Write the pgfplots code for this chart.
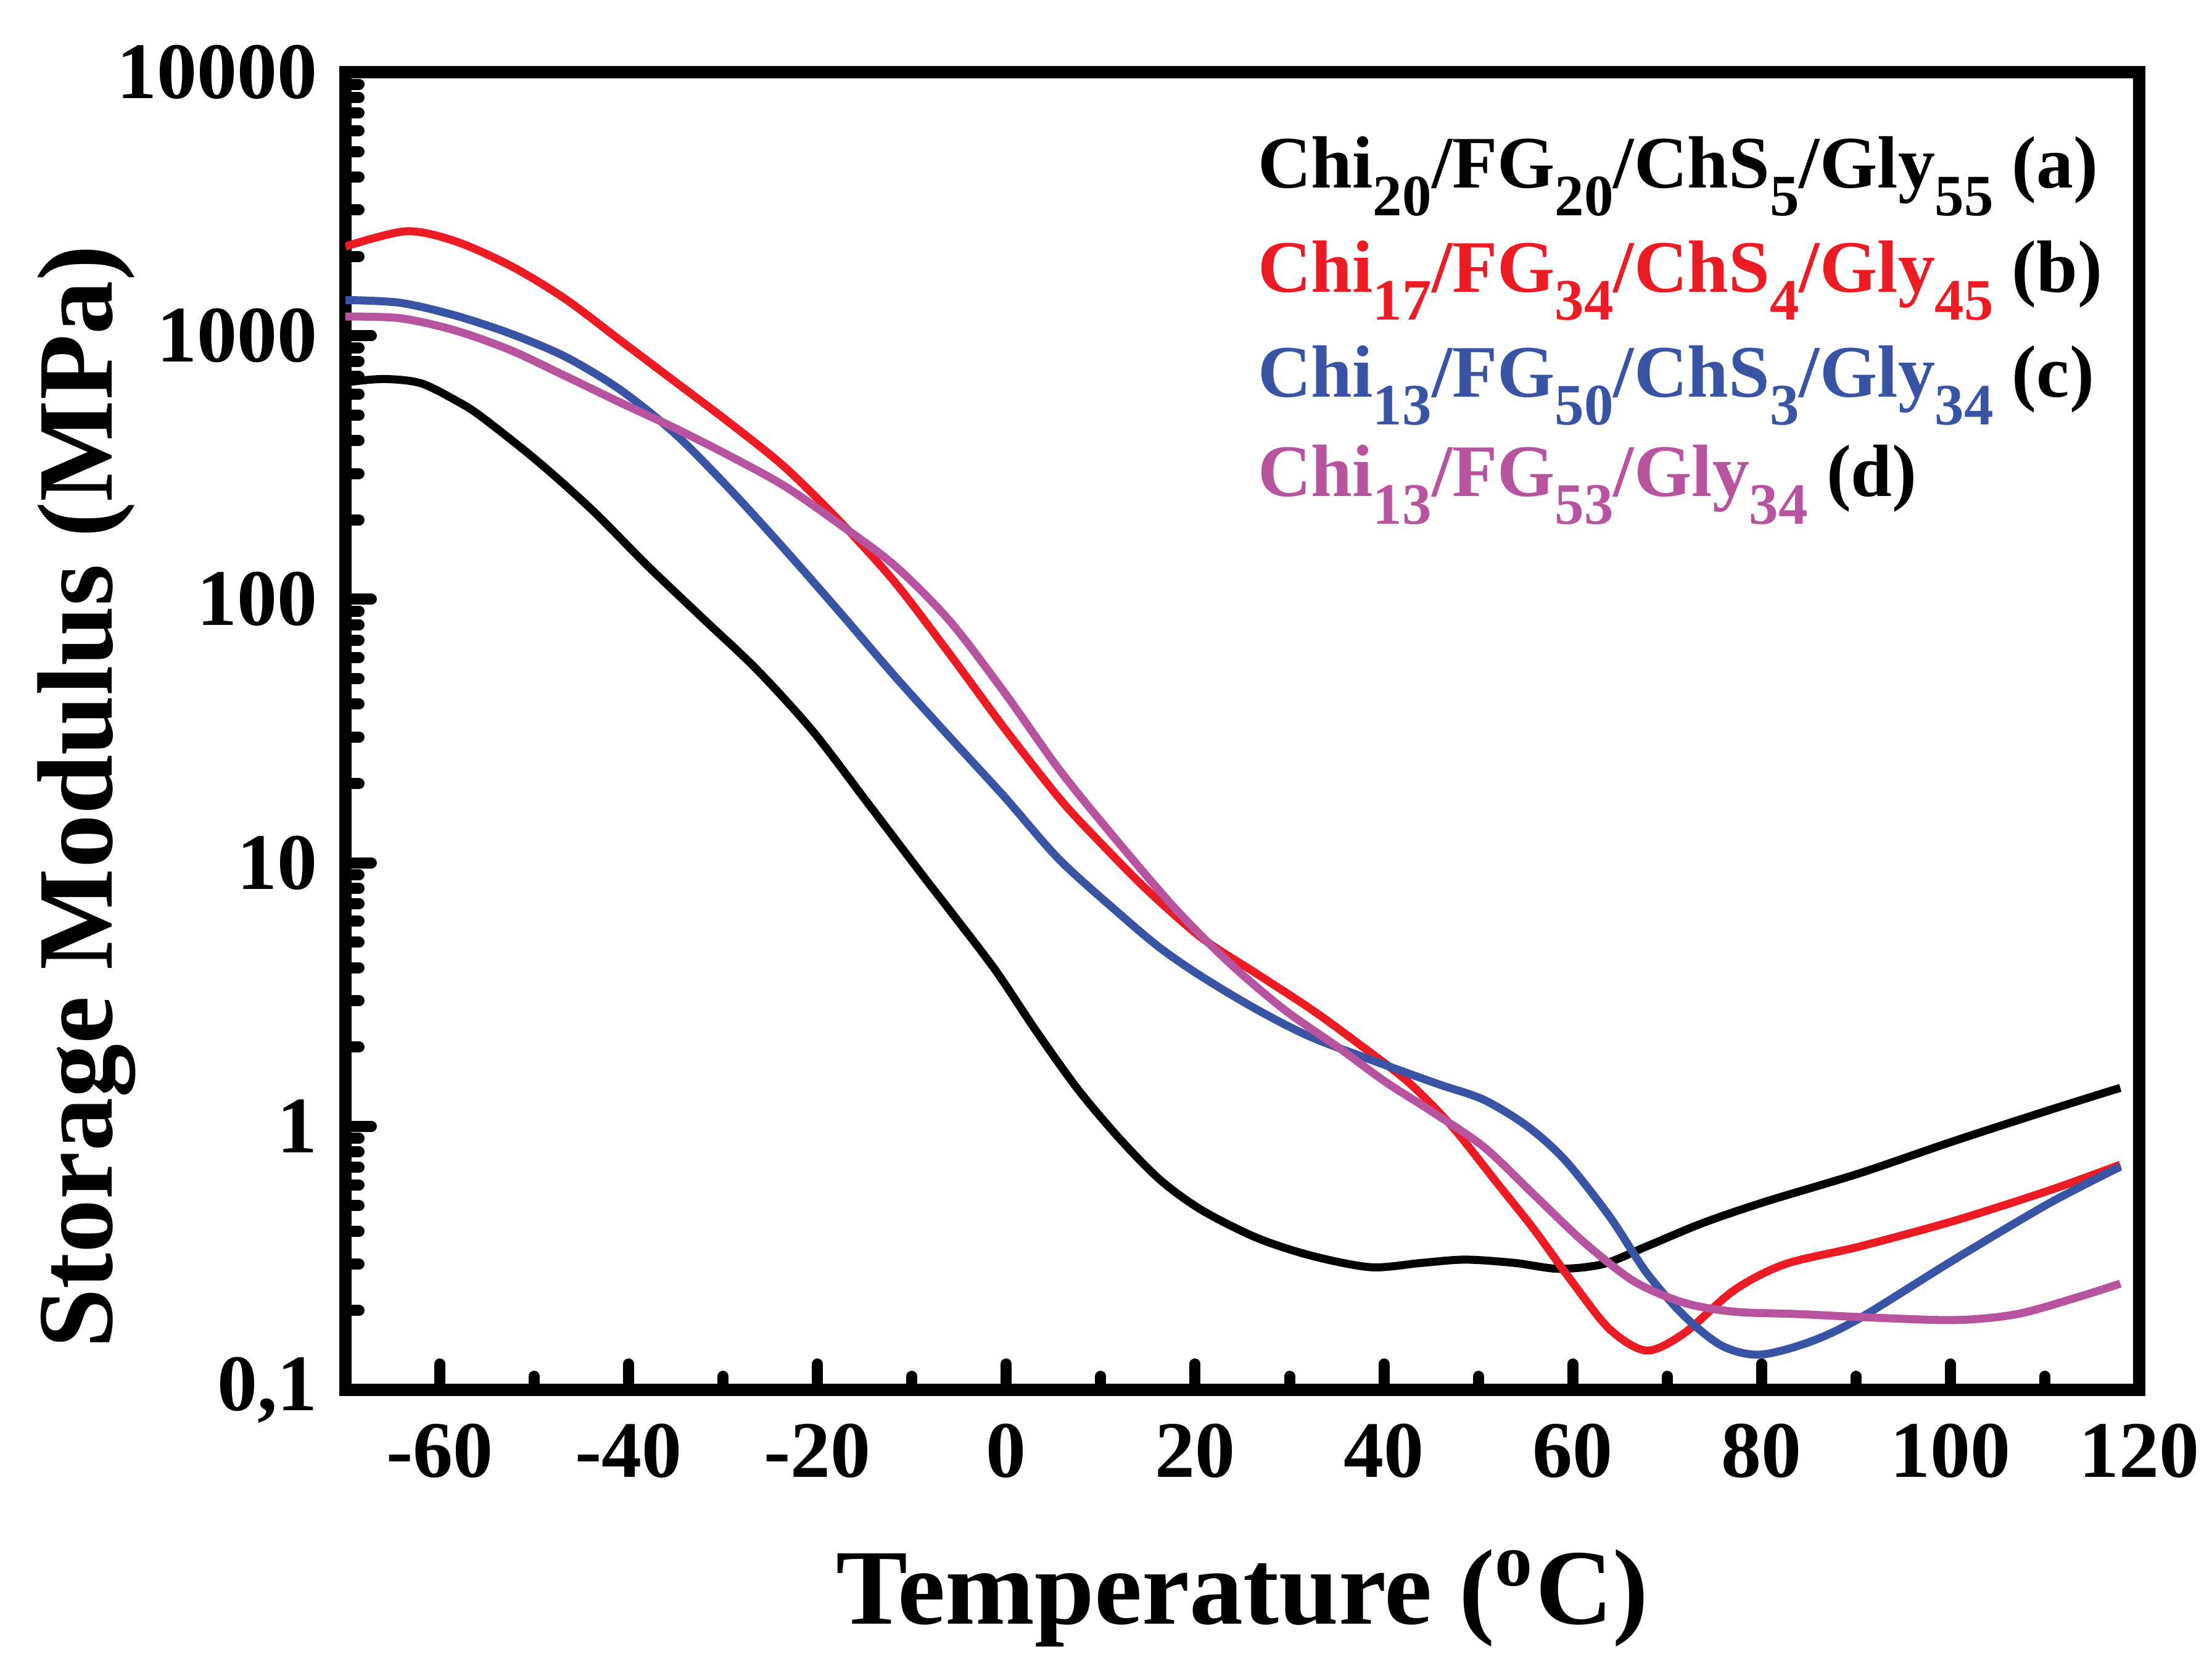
\documentclass[border=0pt]{standalone}
\usepackage{pgfplots}
\pgfplotsset{compat=1.18}
\usepackage{fontspec}
\setmainfont{Liberation Serif}
\definecolor{cred}{HTML}{ED1C24}
\definecolor{cblue}{HTML}{3953A5}
\definecolor{cmag}{HTML}{B853A0}
\newcommand{\sub}[1]{\raisebox{-4.5pt}{\fontsize{9.5}{9.5}\selectfont #1}}
\begin{document}
\begin{tikzpicture}
\begin{axis}[
  at={(0,0)}, anchor=south west,
  width=290.8pt, height=213.6pt, scale only axis,
  ymode=log,
  xmin=-70, xmax=120, ymin=0.1, ymax=10000,
  xtick={-60,-40,-20,0,20,40,60,80,100,120},
  xticklabels={-60,-40,-20,0,20,40,60,80,100,120},
  minor x tick num=1,
  ytick={0.1,1,10,100,1000,10000},
  yticklabels={{0,1},1,10,100,1000,10000},
  xtick pos=bottom, ytick pos=left,
  tick align=inside,
  major tick length=4.2pt, minor tick length=2.2pt,
  tick style={line width=1.8pt, black, line cap=round},
  axis line style={line width=2pt},
  ticklabel style={font=\fontsize{13}{13}\selectfont\bfseries},
  xticklabel style={yshift=-2pt},
  yticklabel style={xshift=-1pt},
  xlabel={Temperature (\textsuperscript{o}C)},
  ylabel={Storage Modulus (MPa)},
  xlabel style={font=\fontsize{17.4}{17.4}\selectfont\bfseries, at={(axis description cs:0.5,0)}, anchor=base, yshift=-38pt},
  ylabel style={font=\fontsize{17.4}{17.4}\selectfont\bfseries, at={(axis description cs:-0.130,0.450)}, anchor=base, rotate=0},
  every axis plot/.append style={line width=1.3pt, smooth, no marks},
]
% (a) black
\addplot[black] coordinates {
(-70,665) (-66,685) (-62,660) (-58,560) (-55.5,490) (-49.6,333) (-43.8,217)
(-38,134) (-32.2,85) (-26.4,54) (-20.5,31.6) (-14.7,16.9) (-9,9.1) (-5.5,6.27)
(-1.1,3.89) (3.2,2.29) (7.6,1.38) (12,0.898) (16.3,0.626) (20.7,0.481)
(26.5,0.378) (32.3,0.323) (38.6,0.292) (43.9,0.303) (48.6,0.312) (53.9,0.303)
(58.5,0.288) (63.2,0.30) (67.8,0.35) (73.8,0.43) (80.5,0.519) (90.4,0.664)
(100.4,0.88) (110.4,1.15) (118,1.40)
};
% (b) red
\addplot[cred] coordinates {
(-70,2180) (-63.6,2490) (-58.4,2285) (-52.5,1842) (-46.7,1378) (-40.9,961)
(-35.1,670) (-29.3,467) (-23.5,318) (-17.6,197) (-11.8,116) (-6,62)
(-0.2,32.4) (5.6,17.6) (9.6,12.3) (14.9,7.9) (20.7,5.19) (26.5,3.80)
(32.3,2.78) (37.3,2.06) (42.6,1.47) (47.2,1.0) (51.9,0.615) (55.9,0.406)
(59.9,0.258) (63.9,0.170) (67.8,0.141) (71.8,0.164) (77.1,0.239) (82.5,0.30)
(90.4,0.35) (100.4,0.438) (110.4,0.57) (118,0.715)
};
% (c) blue
\addplot[cblue] coordinates {
(-70,1366) (-64.2,1333) (-58.4,1194) (-52.5,1018) (-46.7,832) (-40.9,624)
(-35.1,425) (-29.3,262) (-23.5,155) (-17.6,89) (-11.8,51) (-6,30)
(-0.2,17.8) (5.6,10.3) (12,6.4) (16.3,4.75) (20.7,3.7) (26.5,2.78)
(32.3,2.18) (40.3,1.70) (45.9,1.44) (50.6,1.26) (55.2,1.0) (59.2,0.743)
(63.9,0.455) (67.8,0.279) (71.8,0.191) (75.8,0.147) (79.8,0.136) (85.1,0.152)
(90.4,0.187) (100.4,0.312) (110.4,0.509) (118,0.703)
};
% (d) magenta
\addplot[cmag] coordinates {
(-70,1182) (-64.2,1165) (-58.4,1048) (-52.5,881) (-46.7,703) (-40.9,558)
(-35.1,446) (-29.3,350) (-23.5,269) (-17.6,192) (-11.8,134) (-6,82.8)
(-0.2,44.3) (5.6,22.6) (11.1,12.9) (17.8,6.76) (23.6,4.18) (29.4,2.78)
(35.2,1.99) (40.1,1.48) (45.2,1.13) (50.6,0.834) (55.9,0.55) (61.2,0.363)
(66.5,0.258) (71.8,0.214) (77.1,0.198) (83.8,0.194) (90.4,0.189) (100.4,0.184)
(107.1,0.194) (113.7,0.226) (118,0.253)
};
\begin{scope}[every node/.style={anchor=base west, inner sep=0pt, font=\fontsize{12}{12}\selectfont\bfseries}]
\node at (rel axis cs:0.508,0.912) {Chi\sub{20}/FG\sub{20}/ChS\sub{5}/Gly\sub{55} (a)};
\node at (rel axis cs:0.508,0.8333) {\textcolor{cred}{Chi\sub{17}/FG\sub{34}/ChS\sub{4}/Gly\sub{45}} (b)};
\node at (rel axis cs:0.508,0.7537) {\textcolor{cblue}{Chi\sub{13}/FG\sub{50}/ChS\sub{3}/Gly\sub{34}} (c)};
\node at (rel axis cs:0.508,0.6779) {\textcolor{cmag}{Chi\sub{13}/FG\sub{53}/Gly\sub{34}} (d)};
\end{scope}
\end{axis}
\pgfresetboundingbox
\path[use as bounding box] (-56pt,-44.6pt) rectangle (302.6pt,225.3pt);
\end{tikzpicture}
\end{document}
